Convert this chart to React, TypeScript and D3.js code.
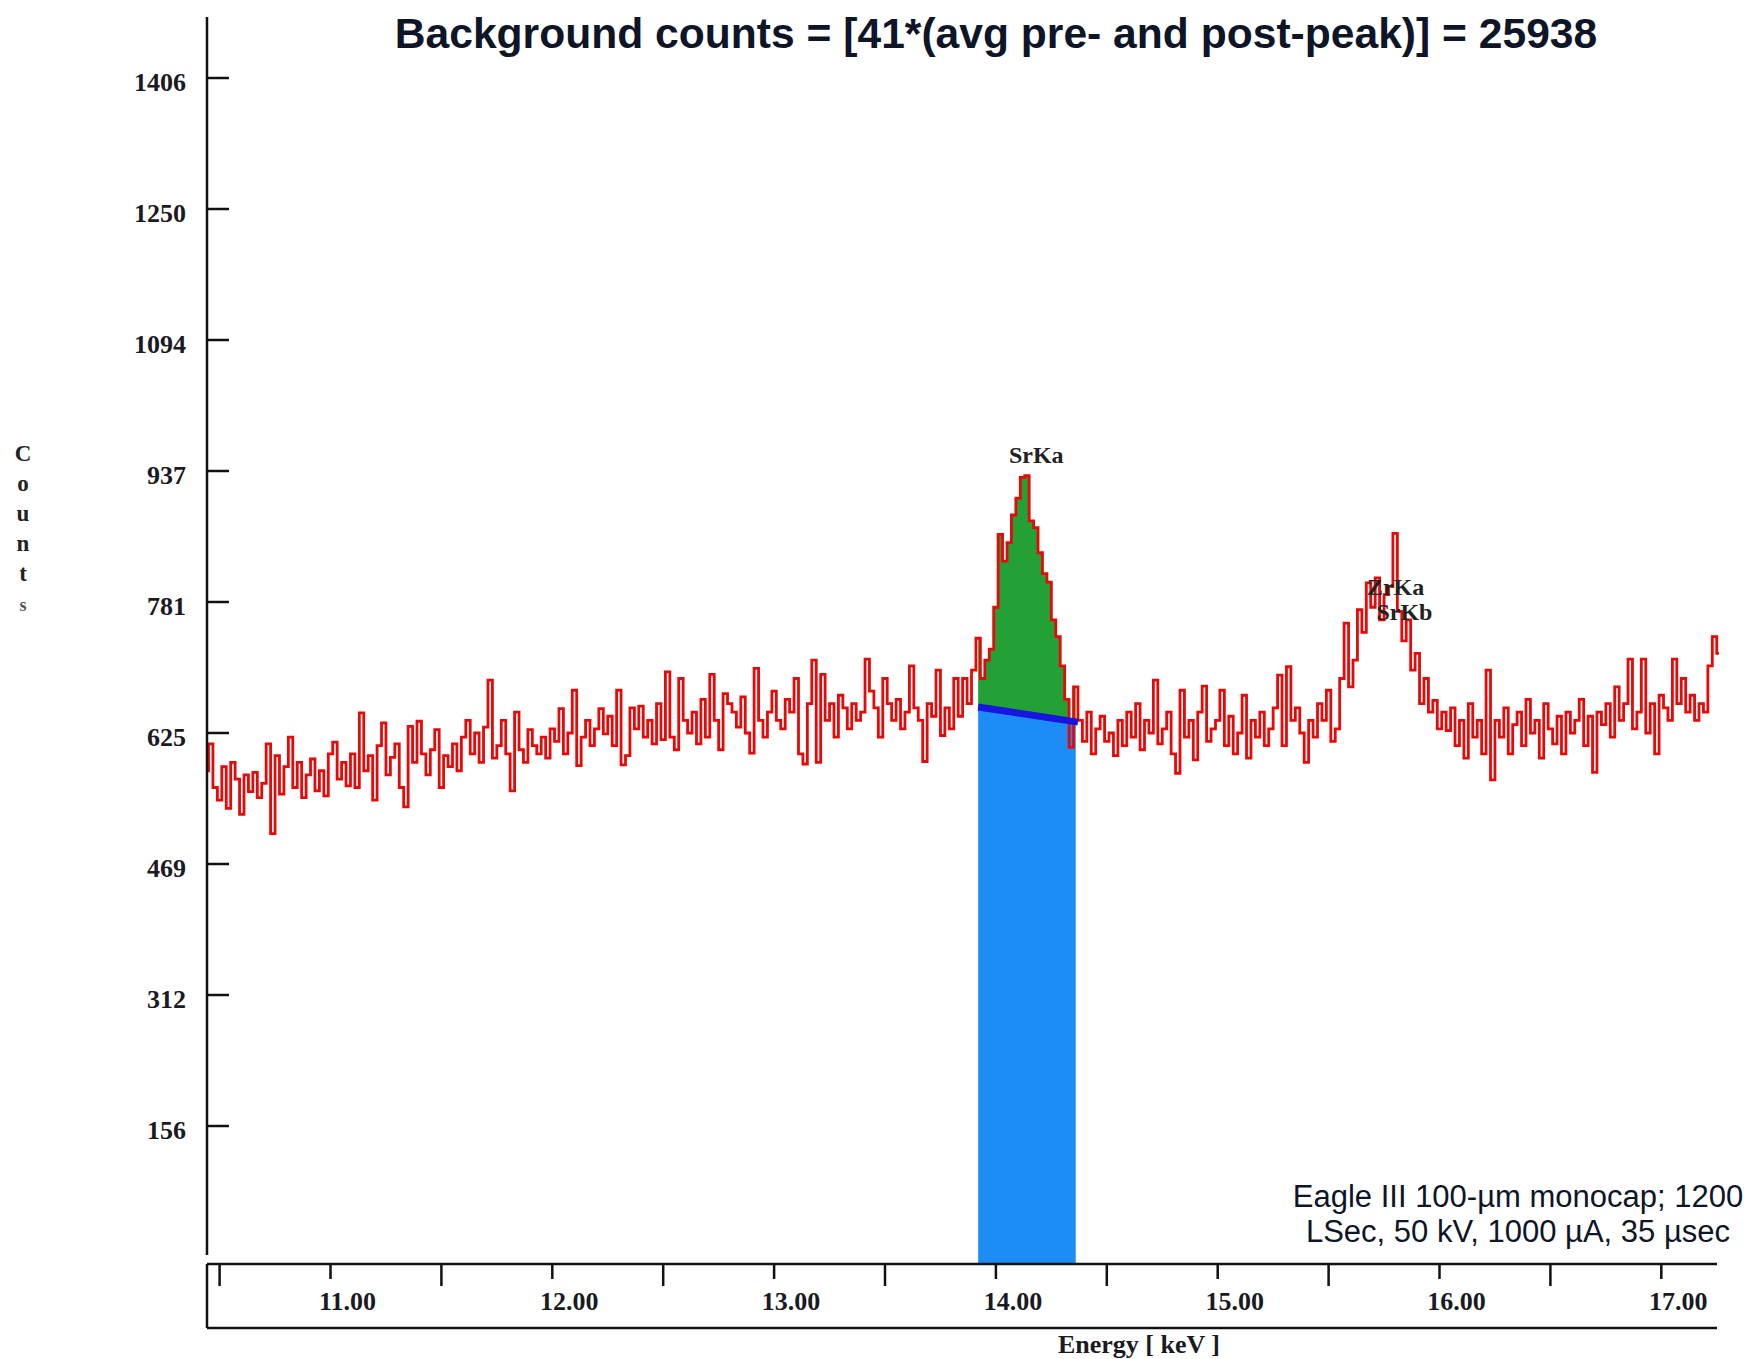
import React from "react";
import * as d3 from "d3";

// ---- data ----
const E0 = 10.44; // keV of first channel
const dE = 0.02; // keV per channel
const counts: number[] = [
  580, 612, 560, 545, 585, 535, 590, 570, 528, 575,
  555, 578, 548, 565, 612, 505, 598, 552, 585, 620,
  560, 590, 548, 575, 594, 556, 580, 550, 600, 614,
  570, 590, 562, 600, 560, 649, 580, 598, 545, 610,
  637, 575, 596, 612, 560, 537, 633, 590, 639, 600,
  575, 605, 629, 560, 598, 585, 612, 580, 620, 640,
  600, 625, 590, 632, 688, 595, 610, 640, 600, 556,
  650, 605, 590, 629, 610, 600, 620, 595, 630, 615,
  654, 600, 625, 676, 586, 620, 640, 610, 630, 654,
  624, 645, 610, 676, 587, 598, 655, 630, 657, 620,
  640, 612, 660, 617, 698, 620, 605, 690, 640, 625,
  650, 612, 665, 620, 695, 640, 605, 672, 660, 650,
  632, 668, 625, 601, 702, 640, 620, 650, 675, 640,
  630, 665, 650, 690, 600, 588, 660, 712, 590, 695,
  640, 660, 620, 670, 655, 630, 660, 640, 650, 713,
  675, 655, 620, 690, 660, 640, 665, 630, 650, 705,
  655, 640, 591, 660, 645, 700, 622, 655, 630, 690,
  645, 690, 660, 700, 738, 690, 712, 725, 775, 862,
  830, 852, 885, 905, 930, 932, 878, 870, 840, 815,
  805, 760, 740, 705, 665, 608, 680, 640, 615, 650,
  600, 630, 645, 615, 625, 598, 640, 610, 650, 620,
  660, 605, 640, 625, 688, 612, 630, 650, 600, 577,
  676, 620, 640, 593, 650, 681, 615, 630, 640, 676,
  610, 645, 600, 625, 670, 595, 640, 620, 650, 610,
  630, 655, 694, 610, 704, 640, 655, 625, 590, 640,
  620, 660, 640, 676, 615, 630, 690, 756, 680, 712,
  772, 745, 804, 775, 810, 760, 790, 800, 863, 770,
  735, 760, 700, 720, 660, 690, 650, 664, 630, 650,
  628, 655, 610, 640, 595, 660, 620, 640, 600, 700,
  569, 640, 620, 655, 600, 635, 650, 610, 665, 625,
  640, 595, 660, 630, 612, 645, 600, 650, 625, 640,
  665, 610, 645, 578, 650, 635, 660, 620, 680, 640,
  660, 713, 630, 650, 713, 625, 660, 600, 670, 655,
  640, 713, 660, 690, 650, 670, 640, 660, 650, 705,
  740, 720,
];

const yTickValues = [156.25, 312.5, 468.75, 625, 781.25, 937.5, 1093.75, 1250, 1406.25];
const yTickLabels = ["156", "312", "469", "625", "781", "937", "1094", "1250", "1406"];
const xMajorTicks = [11, 12, 13, 14, 15, 16, 17];
const xMajorLabels = ["11.00", "12.00", "13.00", "14.00", "15.00", "16.00", "17.00"];
const xMinorTicks = [10.5, 11.5, 12.5, 13.5, 14.5, 15.5, 16.5];

const peakRange = [13.92, 14.36];
const bgLine = [
  { e: 13.92, v: 656 },
  { e: 14.37, v: 638 },
];

const peakLabels = [
  { text: "SrKa", e: 14.2, v: 966 },
  { text: "ZrKa", e: 15.82, v: 809 },
  { text: "SrKb", e: 15.86, v: 779 },
];

const title = "Background counts = [41*(avg pre- and post-peak)] = 25938";
const noteLines = ["Eagle III 100-µm monocap; 1200", "LSec, 50 kV, 1000 µA, 35 µsec"];
const yAxisTitle = ["C", "o", "u", "n", "t", "s"];

const W = 1754;
const H = 1359;
const SERIF = "'Liberation Serif', 'Times New Roman', serif";
const SANS = "'Liberation Sans', Arial, Helvetica, sans-serif";

export default function App() {
  const x = d3.scaleLinear().domain([11, 17]).range([330.5, 1661.3]);
  const y = d3.scaleLinear().domain([0, 1406.25]).range([1257, 78]);

  const axisX = 207;
  const axisTop = 17;
  const axisBottom = 1255;
  const boxTop = 1264;
  const boxBottom = 1328;
  const boxRight = 1717;

  const pts = counts.map((c, i) => ({ e: E0 + i * dE, v: c }));

  const line = d3
    .line<{ e: number; v: number }>()
    .x((d) => x(d.e))
    .y((d) => y(d.v))
    .curve(d3.curveStep);

  const bgScale = d3
    .scaleLinear()
    .domain([bgLine[0].e, bgLine[1].e])
    .range([bgLine[0].v, bgLine[1].v]);

  const peakPts = pts.filter((p) => p.e >= peakRange[0] - 1e-9 && p.e <= peakRange[1] + 1e-9);
  const greenArea = d3
    .area<{ e: number; v: number }>()
    .x((d) => x(d.e))
    .y0((d) => y(bgScale(d.e)))
    .y1((d) => y(d.v))
    .curve(d3.curveStep);

  const blueArea = d3
    .area<number>()
    .x((e) => x(e))
    .y0(() => boxTop)
    .y1((e) => y(bgScale(e)));

  return (
    <svg
      width={W}
      height={H}
      viewBox={`0 0 ${W} ${H}`}
      style={{ position: "absolute", left: 0, top: 0, background: "#fff" }}
    >
      <rect x={0} y={0} width={W} height={H} fill="#fff" />

      {/* title */}
      <text
        x={996}
        y={48}
        textAnchor="middle"
        fontFamily={SANS}
        fontWeight="bold"
        fontSize={42.6}
        fill="#0d1526"
      >
        {title}
      </text>

      {/* y axis title */}
      {yAxisTitle.map((ch, i) => (
        <text
          key={i}
          x={23}
          y={461 + i * 30}
          textAnchor="middle"
          fontFamily={SERIF}
          fontWeight="bold"
          fontSize={i === 5 ? 18 : 23}
          fill={i === 5 ? "#555" : "#222"}
        >
          {ch}
        </text>
      ))}

      {/* green peak area */}
      <path d={greenArea(peakPts) || ""} fill="#23a036" />
      {/* blue background area */}
      <path d={blueArea(peakRange) || ""} fill="#1e8cf5" />

      {/* spectrum */}
      <path d={line(pts) || ""} fill="none" stroke="#e80808" strokeWidth={2.8} strokeLinejoin="miter" />

      {/* background line */}
      <line
        x1={x(bgLine[0].e)}
        y1={y(bgLine[0].v)}
        x2={x(bgLine[1].e)}
        y2={y(bgLine[1].v)}
        stroke="#1616e0"
        strokeWidth={7}
      />

      {/* y axis */}
      <line x1={axisX} y1={axisTop} x2={axisX} y2={axisBottom} stroke="#111" strokeWidth={2.5} />
      {yTickValues.map((v, i) => (
        <g key={i}>
          <line x1={axisX} x2={axisX + 22} y1={y(v)} y2={y(v)} stroke="#111" strokeWidth={2.5} />
          <text
            x={186}
            y={y(v) + 13}
            textAnchor="end"
            fontFamily={SERIF}
            fontWeight="bold"
            fontSize={26}
            fill="#1a1a22"
          >
            {yTickLabels[i]}
          </text>
        </g>
      ))}

      {/* x axis box */}
      <line x1={axisX} y1={boxTop} x2={boxRight} y2={boxTop} stroke="#111" strokeWidth={2.5} />
      <line x1={axisX} y1={boxBottom} x2={boxRight} y2={boxBottom} stroke="#111" strokeWidth={2.5} />
      <line x1={axisX} y1={boxTop} x2={axisX} y2={boxBottom} stroke="#111" strokeWidth={2.5} />
      {xMinorTicks.map((e, i) => (
        <line key={"m" + i} x1={x(e)} x2={x(e)} y1={boxTop} y2={boxTop + 22} stroke="#111" strokeWidth={2.5} />
      ))}
      {xMajorTicks.map((e, i) => (
        <g key={"M" + i}>
          <line x1={x(e)} x2={x(e)} y1={boxTop} y2={boxTop + 15} stroke="#111" strokeWidth={2.5} />
          <text
            x={x(e) + 17}
            y={1310}
            textAnchor="middle"
            fontFamily={SERIF}
            fontWeight="bold"
            fontSize={26}
            fill="#1a1a22"
          >
            {xMajorLabels[i]}
          </text>
        </g>
      ))}
      <text
        x={1139}
        y={1353}
        textAnchor="middle"
        fontFamily={SERIF}
        fontWeight="bold"
        fontSize={26}
        fill="#1a1a22"
      >
        Energy [ keV ]
      </text>

      {/* peak labels */}
      {peakLabels.map((p, i) => (
        <text
          key={i}
          x={x(p.e) - 4}
          y={y(p.v) + 16}
          textAnchor="middle"
          fontFamily={SERIF}
          fontWeight="bold"
          fontSize={24}
          fill="#222"
        >
          {p.text}
        </text>
      ))}

      {/* note */}
      {noteLines.map((t, i) => (
        <text
          key={i}
          x={1518}
          y={1207 + i * 35}
          textAnchor="middle"
          fontFamily={SANS}
          fontSize={31}
          fill="#0d1526"
        >
          {t}
        </text>
      ))}
    </svg>
  );
}
